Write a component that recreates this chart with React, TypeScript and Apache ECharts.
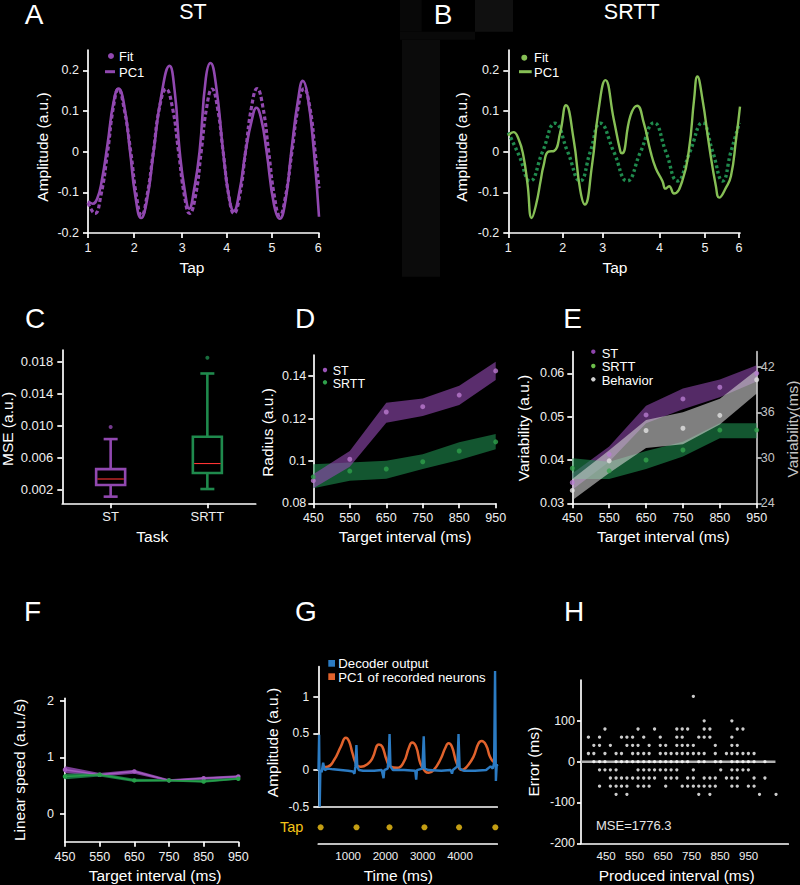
import React, { useEffect, useRef } from 'react';
import * as echarts from 'echarts';

const FONT = '"Liberation Sans", Arial, Helvetica, sans-serif';
const PURPLE = '#9148b0';
const LIGHT_GREEN = '#86bf55';
const DARK_GREEN = '#1f8a4d';
const BLUE = '#2b7bc3';
const ORANGE = '#e0622c';
const YELLOW = '#f5c518';
const WHITE = '#ffffff';
const TICK_COLOR = '#f0f0f0';

// ---------- Panel A (ST) ----------
const tapTicksA = [0, 20.0, 40.8, 60.0, 79.6, 99.7];
const pc1A: number[][] = [
  [0, -0.122], [2, -0.128], [4, -0.115], [6, -0.07], [8.5, 0.02], [11, 0.12], [13.2, 0.155], [15.5, 0.12],
  [18.2, 0.0], [20.5, -0.11], [23, -0.163], [25.5, -0.12], [28.4, 0.0], [31.5, 0.13], [35.3, 0.211], [37.5, 0.15],
  [39.7, 0.0], [42, -0.1], [43.8, -0.14], [46, -0.09], [48.3, 0.0], [51, 0.18], [53, 0.218], [55.5, 0.16],
  [58.5, 0.0], [61, -0.11], [63.1, -0.146], [65.5, -0.1], [68.2, 0.0], [71, 0.08], [72.9, 0.108], [75, 0.08],
  [77.3, 0.0], [80.5, -0.13], [83, -0.165], [85.5, -0.12], [88, 0.0], [91, 0.13], [93, 0.174], [95, 0.14],
  [97.8, 0.0], [100, -0.16],
];
const fitA: number[][] = [
  [0, -0.126], [3, -0.152], [5.5, -0.11], [8.5, 0.0], [11, 0.11], [13.2, 0.154], [15.5, 0.11], [18.5, 0.0],
  [21, -0.11], [23.2, -0.157], [25.5, -0.11], [28.3, 0.0], [31, 0.11], [33.8, 0.154], [36.5, 0.11], [39.2, 0.0],
  [41.8, -0.11], [44, -0.152], [46.5, -0.11], [49, 0.0], [51.4, 0.11], [53.7, 0.154], [56, 0.11], [58.5, 0.0],
  [61, -0.11], [63.2, -0.152], [65.6, -0.11], [68.2, 0.0], [70.8, 0.11], [73.2, 0.155], [75.7, 0.11], [78.2, 0.0],
  [80.7, -0.11], [83, -0.157], [85.5, -0.11], [88.3, 0.0], [91, 0.11], [93.5, 0.155], [96, 0.11], [98.3, 0.0],
  [100, -0.09],
];

// ---------- Panel B (SRTT) ----------
const tapTicksB = [0, 23.5, 40.7, 65.2, 84.9, 99.6];
const pc1B: number[][] = [
  [0, 0.039], [2.2, 0.048], [4.5, 0.03], [6.5, -0.01], [8.3, -0.08], [10.1, -0.163], [12, -0.13], [14, -0.07],
  [15.2, -0.035], [17.3, 0.0], [19.8, 0.002], [22.4, 0.047], [24.9, 0.114], [28.2, 0.03], [31, -0.093], [33, -0.13],
  [36.1, -0.035], [39, 0.104], [41.9, 0.176], [45.5, 0.08], [48.4, 0.0], [49.1, -0.004], [52.7, 0.088], [55.6, 0.113],
  [58.5, 0.07], [61.4, 0.0], [63.6, -0.04], [66.5, -0.072], [67.9, -0.091], [69.4, -0.085], [71.5, -0.103], [75.1, -0.072],
  [78, 0.006], [80.2, 0.129], [81.6, 0.185], [83.8, 0.129], [86.7, 0.014], [89.6, -0.085], [91, -0.113], [93.9, -0.089],
  [96.1, -0.06], [98.3, 0.03], [100, 0.111],
];
const fitB: number[][] = [
  [0, 0.047], [4.7, -0.01], [9.4, -0.072], [14.8, 0.0], [20.2, 0.07], [25.6, 0.0], [31, -0.072], [35.4, 0.0],
  [39.7, 0.07], [45.5, 0.0], [51.3, -0.072], [57.1, 0.0], [62.9, 0.071], [68, 0.0], [73, -0.072], [78.4, 0.0],
  [83.8, 0.071], [88.2, 0.0], [92.5, -0.072], [96.1, 0.0], [99.7, 0.07],
];

// ---------- Panel C (box plots) ----------
const boxCategories = ['ST', 'SRTT'];
// [min, Q1, median, Q3, max]
const boxStatsST = [0.00117, 0.00262, 0.00337, 0.0046, 0.00835];
const boxStatsSRTT = [0.00212, 0.00412, 0.0053, 0.00864, 0.01653];
const outliersST = [0.00985];
const outliersSRTT = [0.0185];
const mseTicks = [0.002, 0.006, 0.010, 0.014, 0.018];

// ---------- Panels D/E/F ----------
const targetIntervals = [450, 550, 650, 750, 850, 950];

const radiusSTMean = [0.0907, 0.1008, 0.1231, 0.1256, 0.1311, 0.1425];
const radiusSTLow = [0.0871, 0.0973, 0.118, 0.1212, 0.1264, 0.1382];
const radiusSTHigh = [0.0937, 0.1047, 0.1275, 0.1295, 0.1355, 0.1468];
const radiusSRTTMean = [0.0925, 0.0952, 0.0962, 0.0996, 0.1047, 0.109];
const radiusSRTTLow = [0.0871, 0.0907, 0.0916, 0.0962, 0.1004, 0.1055];
const radiusSRTTHigh = [0.0984, 0.0993, 0.1001, 0.1032, 0.1088, 0.1127];
const radiusTicks = [0.08, 0.1, 0.12, 0.14];

const varSTMean = [0.0348, 0.0413, 0.0504, 0.0541, 0.0568, 0.06];
const varSTLow = [0.0331, 0.0396, 0.0485, 0.0517, 0.0545, 0.0581];
const varSTHigh = [0.0369, 0.0431, 0.0525, 0.0565, 0.0586, 0.0619];
const varSRTTMean = [0.0381, 0.0375, 0.04, 0.0423, 0.0469, 0.0469];
const varSRTTLow = [0.0356, 0.0356, 0.0379, 0.0408, 0.045, 0.045];
const varSRTTHigh = [0.0404, 0.0396, 0.0421, 0.0442, 0.0485, 0.0485];
const varBehMean = [25.7, 29.6, 33.6, 33.9, 35.6, 40.3];
const varBehLow = [24.4, 28.0, 31.3, 31.8, 34.4, 38.5];
const varBehHigh = [27.2, 31.0, 35.0, 36.0, 37.8, 41.6];
const varTicksLeft = [0.03, 0.04, 0.05, 0.06];
const varTicksRight = [24, 30, 36, 42];

const speedSTMean = [0.78, 0.69, 0.75, 0.59, 0.63, 0.66];
const speedSTLow = [0.72, 0.66, 0.71, 0.57, 0.6, 0.63];
const speedSTHigh = [0.84, 0.72, 0.78, 0.61, 0.65, 0.68];
const speedSRTTMean = [0.66, 0.69, 0.59, 0.59, 0.57, 0.62];
const speedSRTTLow = [0.61, 0.66, 0.56, 0.57, 0.55, 0.6];
const speedSRTTHigh = [0.71, 0.72, 0.62, 0.61, 0.6, 0.64];
const speedTicks = [0, 1, 2];

// ---------- Panel G ----------
const decoderOutput: number[][] = [
  [205, 0.0], [222, 0.48], [238, -0.5], [255, 0.0], [290, -0.03], [330, 0.1], [370, 0.0], [450, 0.02], [600, 0.01],
  [800, 0.0], [1000, -0.01], [1130, -0.02], [1170, -0.05], [1195, 0.05], [1222, 0.34], [1245, 0.05], [1290, 0.0],
  [1400, -0.01], [1700, -0.01], [1900, 0.0], [1950, -0.11], [1970, 0.0], [2060, 0.02], [2090, 0.2], [2111, 0.49],
  [2135, 0.05], [2200, 0.0], [2500, 0.0], [2800, -0.01], [2825, -0.13], [2845, 0.0], [2990, 0.02], [3027, 0.46],
  [3055, 0.02], [3150, 0.0], [3500, -0.01], [3750, 0.0], [3785, -0.05], [3810, 0.0], [3930, 0.05], [3960, 0.49],
  [3990, 0.02], [4100, -0.01], [4400, -0.01], [4700, 0.0], [4820, 0.05], [4880, 0.02], [4915, 0.1], [4940, 1.35],
  [4962, -0.15], [4985, 0.08], [5000, 0.05],
];
const pc1Recorded: number[][] = [
  [330, 0.04], [449, 0.045], [627, 0.14], [804, 0.32], [938, 0.44], [1027, 0.39], [1116, 0.23], [1231, 0.07],
  [1338, 0.045], [1516, 0.08], [1649, 0.16], [1827, 0.35], [1916, 0.32], [2031, 0.14], [2138, 0.045], [2316, 0.03],
  [2493, 0.11], [2627, 0.3], [2716, 0.377], [2822, 0.32], [2938, 0.09], [3071, -0.02], [3160, -0.036], [3293, 0.0],
  [3471, 0.14], [3604, 0.3], [3693, 0.364], [3782, 0.32], [3916, 0.09], [4049, 0.0], [4182, 0.045], [4360, 0.18],
  [4493, 0.36], [4582, 0.395], [4698, 0.34], [4804, 0.18], [4893, 0.11],
];
const tapTimes = [262, 1225, 2109, 3046, 3975, 4947];
const timeTicks = [1000, 2000, 3000, 4000];
const ampTicksG = [-0.5, 0, 0.5, 1];

// ---------- Panel H ----------
const producedIntervals = [
  388, 407, 427, 446, 465, 485, 504, 523, 543, 562, 582, 601, 620, 640, 659, 678, 698,
  717, 736, 756, 775, 794, 814, 833, 852, 872, 891, 910, 930, 949, 969, 988, 1007, 1046,
];
const errorsByInterval: number[][] = [
  [60, 20], [40, 20, 0], [60, 40, 0, -20, -60], [80, 20, 0, -20], [40, -20, -40, -60],
  [20, 0, -20, -40, -60, -80], [60, 20, 0, -40, -60], [60, 40, 0, -40, -60, -80], [60, 40, 20, 0, -40],
  [80, 40, 20, 0, -20, -40, -60], [60, 20, 0, -20, -40, -60], [40, 20, 0, -20, -40, -60], [80, 0, -20, -40],
  [60, 40, 20, 0, -20], [40, 20, 0, -20, -40, -60], [20, 0, -20, -40], [80, 60, 40, 20, 0, -20, -40],
  [80, 60, 40, 20, 0, -60], [80, 40, 20, 0, -40, -60], [160, 40, 20, -20, -40, -60], [60, 20, 0, -60, -80],
  [100, 80, 60, 20, 0, -40, -60], [80, 60, -40, -60, -80], [40, 20, 0, -40, -60], [0, -20], [20, -40],
  [100, 60, 40, 20, 0, -20, -40, -60], [80, 40, 20, 0, -20, -40, -60], [80, 20, 0, -20], [20, 0, -20, -60],
  [20, 0, -40, -60], [-80], [0, -40], [-80],
];
const zeroLineH: number[][] = [[362, 0], [1044, 0]];
const intervalTicksH = [450, 550, 650, 750, 850, 950];
const errorTicks = [-200, -100, 0, 100];
const mseText = 'MSE=1776.3';

// ---------- helpers ----------
type VA = {
  grid: number; min: number; max: number; ticks?: number[]; margin?: number;
  fmt?: (v: number) => string; position?: string; color?: string; labelColor?: string;
  showTicks?: boolean; showLabels?: boolean; fontSize?: number; tickLen?: number; showLine?: boolean;
};
function vAxis(p: VA): any {
  const color = p.color ?? WHITE;
  return {
    type: 'value', gridIndex: p.grid, min: p.min, max: p.max, position: p.position,
    axisLine: { show: p.showLine !== false, onZero: false, lineStyle: { color, width: 1.7 } },
    axisTick: {
      show: p.showTicks !== false, length: p.tickLen ?? 5, inside: false,
      customValues: p.ticks, lineStyle: { color, width: 1.7 },
    },
    axisLabel: {
      show: p.showLabels !== false, customValues: p.ticks, margin: p.margin ?? 8,
      color: p.labelColor ?? TICK_COLOR, fontSize: p.fontSize ?? 12.5, fontFamily: FONT,
      formatter: p.fmt ?? ((v: number) => String(v)),
    },
    splitLine: { show: false },
  };
}

function bandSeries(xi: number, yi: number, xs: number[], lo: number[], hi: number[], color: string, opacity: number, z: number): any {
  const rows = xs.map((x, i) => [x, lo[i], hi[i]]);
  return {
    type: 'custom', xAxisIndex: xi, yAxisIndex: yi, data: rows, z, silent: true,
    encode: { x: 0, y: [1, 2] },
    renderItem: (params: any, api: any) => {
      if (params.dataIndex !== 0) return { type: 'group', children: [] };
      const top = rows.map((r) => api.coord([r[0], r[2]]));
      const bottom = rows.slice().reverse().map((r) => api.coord([r[0], r[1]]));
      return { type: 'polygon', shape: { points: top.concat(bottom) }, style: { fill: color, opacity } };
    },
  };
}

function dots(xi: number, yi: number, xs: number[], ys: number[], color: string, size: number): any {
  return {
    type: 'scatter', xAxisIndex: xi, yAxisIndex: yi, data: xs.map((x, i) => [x, ys[i]]),
    symbol: 'circle', symbolSize: size, itemStyle: { color }, z: 5, silent: true,
  };
}

function txt(x: number, y: number, text: string, size: number, o: { rot?: number; color?: string; align?: string; lh?: number } = {}): any {
  const align = o.align ?? 'center';
  return {
    type: 'text', x, y, rotation: o.rot ?? 0, silent: true,
    style: {
      text, fill: o.color ?? WHITE, fontSize: size, fontFamily: FONT, lineHeight: o.lh ?? Math.round(size * 1.05),
      align, verticalAlign: 'middle', textAlign: align, textVerticalAlign: 'middle',
    },
  };
}

function buildOption(): any {
  const grids = [
    { left: 88, top: 50, width: 231, height: 183 },
    { left: 508.3, top: 50, width: 231.7, height: 183 },
    { left: 62.3, top: 350, width: 193.4, height: 153.3 },
    { left: 313.3, top: 355, width: 182.4, height: 148.3 },
    { left: 572.3, top: 351.7, width: 184.4, height: 151.6 },
    { left: 65, top: 698.3, width: 173.3, height: 143.4 },
    { left: 318.3, top: 666.7, width: 179, height: 140 },
    { left: 318.3, top: 811.3, width: 179, height: 32 },
    { left: 581, top: 680, width: 207.3, height: 163.3 },
  ].map((g) => ({ ...g, containLabel: false, outerBoundsMode: 'none', show: false }));

  const tapFmt = (ticks: number[]) => (v: number) =>
    String(ticks.findIndex((t) => Math.abs(t - v) < 1e-6) + 1);

  const xAxes = [
    vAxis({ grid: 0, min: 0, max: 100, ticks: tapTicksA, fmt: tapFmt(tapTicksA), margin: 8 }),
    vAxis({ grid: 1, min: 0, max: 100, ticks: tapTicksB, fmt: tapFmt(tapTicksB), margin: 8 }),
    {
      type: 'category', gridIndex: 2, data: boxCategories, boundaryGap: true,
      axisLine: { show: true, onZero: false, lineStyle: { color: WHITE, width: 1.7 } },
      axisTick: { show: true, alignWithLabel: true, length: 5, lineStyle: { color: WHITE, width: 1.7 } },
      axisLabel: { color: TICK_COLOR, fontSize: 13, fontFamily: FONT, margin: 7 },
      splitLine: { show: false },
    },
    vAxis({ grid: 3, min: 450, max: 950, ticks: targetIntervals, margin: 8 }),
    vAxis({ grid: 4, min: 450, max: 950, ticks: targetIntervals, margin: 8 }),
    vAxis({ grid: 5, min: 450, max: 950, ticks: targetIntervals, margin: 9 }),
    vAxis({ grid: 6, min: 200, max: 5000, showTicks: false, showLabels: false }),
    vAxis({ grid: 7, min: 200, max: 5000, ticks: timeTicks, showTicks: false, margin: 7, fontSize: 11.5 }),
    vAxis({ grid: 8, min: 362, max: 1089, ticks: intervalTicksH, showTicks: false, margin: 7, fontSize: 11.5 }),
  ];

  const yAxes = [
    vAxis({ grid: 0, min: -0.2, max: 0.25, ticks: [-0.2, -0.1, 0, 0.1, 0.2], margin: 9 }),
    vAxis({ grid: 1, min: -0.2, max: 0.25, ticks: [-0.2, -0.1, 0, 0.1, 0.2], margin: 9 }),
    vAxis({ grid: 2, min: 0.00034, max: 0.01946, ticks: mseTicks, margin: 9, fmt: (v) => v.toFixed(3), fontSize: 13 }),
    vAxis({ grid: 3, min: 0.08, max: 0.15, ticks: radiusTicks, margin: 7 }),
    vAxis({ grid: 4, min: 0.03, max: 0.065, ticks: varTicksLeft, margin: 8 }),
    vAxis({ grid: 4, min: 24, max: 44, ticks: varTicksRight, position: 'right', color: '#c4c4c4', labelColor: '#c4c4c4', margin: 4 }),
    vAxis({ grid: 5, min: -0.5, max: 2.05, ticks: speedTicks, margin: 11 }),
    vAxis({ grid: 6, min: -0.5, max: 1.41, ticks: ampTicksG, margin: 9, fontSize: 12 }),
    {
      type: 'category', gridIndex: 7, data: ['Tap'],
      axisLine: { show: false }, axisTick: { show: false }, splitLine: { show: false },
      axisLabel: { color: YELLOW, fontSize: 14.5, fontFamily: FONT, margin: 15 },
    },
    vAxis({ grid: 8, min: -200, max: 200, ticks: errorTicks, margin: 6, tickLen: 4 }),
  ];

  const series: any[] = [
    // A
    { type: 'line', xAxisIndex: 0, yAxisIndex: 0, data: fitA, smooth: 0.5, symbol: 'none', silent: true,
      lineStyle: { color: PURPLE, width: 3.2, type: [4, 2.5] }, z: 3 },
    { type: 'line', xAxisIndex: 0, yAxisIndex: 0, data: pc1A, smooth: 0.5, symbol: 'none', silent: true,
      lineStyle: { color: PURPLE, width: 2.6 }, z: 4 },
    // B
    { type: 'line', xAxisIndex: 1, yAxisIndex: 1, data: fitB, smooth: 0.5, symbol: 'none', silent: true,
      lineStyle: { color: DARK_GREEN, width: 3.4, type: [2.8, 2.8] }, z: 3 },
    { type: 'line', xAxisIndex: 1, yAxisIndex: 1, data: pc1B, smooth: 0.5, symbol: 'none', silent: true,
      lineStyle: { color: LIGHT_GREEN, width: 2.4 }, z: 4 },
    // C
    {
      type: 'custom', xAxisIndex: 2, yAxisIndex: 2, silent: true, z: 3,
      data: [[0, ...boxStatsST], [1, ...boxStatsSRTT]],
      encode: { x: 0, y: [1, 2, 3, 4, 5] },
      renderItem: (params: any, api: any) => {
        const i = api.value(0);
        const p = (v: number) => api.coord([i, v]);
        const lo = p(api.value(1)), q1 = p(api.value(2)), md = p(api.value(3)), q3 = p(api.value(4)), hi = p(api.value(5));
        const cx = lo[0];
        const c = params.dataIndex === 0 ? PURPLE : DARK_GREEN;
        const st = { stroke: c, lineWidth: 2.6, fill: 'none' };
        return {
          type: 'group', children: [
            { type: 'line', shape: { x1: cx, y1: hi[1], x2: cx, y2: q3[1] }, style: st },
            { type: 'line', shape: { x1: cx, y1: q1[1], x2: cx, y2: lo[1] }, style: st },
            { type: 'line', shape: { x1: cx - 7, y1: hi[1], x2: cx + 7, y2: hi[1] }, style: st },
            { type: 'line', shape: { x1: cx - 7, y1: lo[1], x2: cx + 7, y2: lo[1] }, style: st },
            { type: 'rect', shape: { x: cx - 14.5, y: q3[1], width: 29, height: q1[1] - q3[1] }, style: st },
            { type: 'line', shape: { x1: cx - 13.2, y1: md[1], x2: cx + 13.2, y2: md[1] }, style: { stroke: '#ff3434', lineWidth: 1.1 } },
          ],
        };
      },
    },
    {
      type: 'scatter', xAxisIndex: 2, yAxisIndex: 2, symbolSize: 4, silent: true, z: 4,
      data: [
        ...outliersST.map((v) => ({ value: [0, v], itemStyle: { color: PURPLE } })),
        ...outliersSRTT.map((v) => ({ value: [1, v], itemStyle: { color: DARK_GREEN } })),
      ],
    },
    // D
    bandSeries(3, 3, targetIntervals, radiusSRTTLow, radiusSRTTHigh, DARK_GREEN, 0.62, 1),
    bandSeries(3, 3, targetIntervals, radiusSTLow, radiusSTHigh, PURPLE, 0.62, 2),
    dots(3, 3, targetIntervals, radiusSTMean, '#bb7ad0', 5),
    dots(3, 3, targetIntervals, radiusSRTTMean, '#2fa04b', 5),
    // E
    bandSeries(4, 4, targetIntervals, varSTLow, varSTHigh, PURPLE, 0.58, 1),
    bandSeries(4, 4, targetIntervals, varSRTTLow, varSRTTHigh, DARK_GREEN, 0.62, 1),
    bandSeries(4, 5, targetIntervals, varBehLow, varBehHigh, '#d4d4d4', 0.6, 2),
    dots(4, 4, targetIntervals, varSTMean, '#b67cd0', 5),
    dots(4, 4, targetIntervals, varSRTTMean, '#35a44c', 5),
    dots(4, 5, targetIntervals, varBehMean, '#e2e2e2', 5),
    // F
    bandSeries(5, 6, targetIntervals, speedSTLow, speedSTHigh, PURPLE, 0.85, 1),
    bandSeries(5, 6, targetIntervals, speedSRTTLow, speedSRTTHigh, DARK_GREEN, 0.85, 2),
    { type: 'line', xAxisIndex: 5, yAxisIndex: 6, data: targetIntervals.map((x, i) => [x, speedSTMean[i]]), silent: true,
      symbol: 'circle', symbolSize: 4.5, itemStyle: { color: '#a45cc0' }, lineStyle: { color: '#a45cc0', width: 1.5 }, z: 3 },
    { type: 'line', xAxisIndex: 5, yAxisIndex: 6, data: targetIntervals.map((x, i) => [x, speedSRTTMean[i]]), silent: true,
      symbol: 'circle', symbolSize: 4.5, itemStyle: { color: '#27a049' }, lineStyle: { color: '#27a049', width: 1.5 }, z: 4 },
    // G
    { type: 'line', xAxisIndex: 6, yAxisIndex: 7, data: pc1Recorded, smooth: 0.5, symbol: 'none', silent: true,
      lineStyle: { color: ORANGE, width: 2.5 }, z: 3 },
    { type: 'line', xAxisIndex: 6, yAxisIndex: 7, data: decoderOutput, symbol: 'none', silent: true,
      lineStyle: { color: BLUE, width: 2.4 }, z: 4 },
    { type: 'scatter', xAxisIndex: 7, yAxisIndex: 8, data: tapTimes.map((t) => [t, 0]), symbolSize: 6, silent: true,
      itemStyle: { color: YELLOW }, z: 4 },
    // H
    { type: 'line', xAxisIndex: 8, yAxisIndex: 9, data: zeroLineH, symbol: 'none', silent: true,
      lineStyle: { color: '#b0b0b0', width: 2.5 }, z: 3 },
    { type: 'scatter', xAxisIndex: 8, yAxisIndex: 9, symbolSize: 3.3, silent: true, itemStyle: { color: WHITE }, z: 4,
      data: producedIntervals.flatMap((x, k) => errorsByInterval[k].map((e) => [x, e])) },
  ];

  const L = 15.5; // axis title size
  const P = 28; // panel letter size
  const graphicEls: any[] = [
    // faint background artefacts near panel B
    { type: 'rect', shape: { x: 400, y: 0, width: 21.7, height: 31.7 }, style: { fill: '#080808' }, z: -10, silent: true },
    { type: 'rect', shape: { x: 475, y: 0, width: 38, height: 31.7 }, style: { fill: '#101010' }, z: -10, silent: true },
    { type: 'rect', shape: { x: 400, y: 31.7, width: 75, height: 8 }, style: { fill: '#090909' }, z: -10, silent: true },
    { type: 'rect', shape: { x: 402, y: 39.7, width: 38, height: 237 }, style: { fill: '#0b0b0b' }, z: -10, silent: true },
    // panel letters
    txt(34.2, 14.2, 'A', P, { lh: 24 }), txt(443, 14.2, 'B', P, { lh: 24 }),
    txt(35, 318, 'C', P, { lh: 24 }), txt(305, 318, 'D', P, { lh: 24 }), txt(572.5, 318, 'E', P, { lh: 24 }),
    txt(32.5, 611, 'F', P, { lh: 24 }), txt(305.8, 611, 'G', P, { lh: 24 }), txt(574, 611, 'H', P, { lh: 24 }),
    // titles
    txt(193, 11.5, 'ST', 21.5, { lh: 18 }), txt(631.7, 11.5, 'SRTT', 21.5, { lh: 18 }),
    // axis titles
    txt(192, 267, 'Tap', L), txt(42, 147, 'Amplitude (a.u.)', L, { rot: Math.PI / 2 }),
    txt(615, 267, 'Tap', L), txt(461.7, 147, 'Amplitude (a.u.)', L, { rot: Math.PI / 2 }),
    txt(152.3, 536.5, 'Task', L), txt(7.8, 429, 'MSE (a.u.)', L, { rot: Math.PI / 2 }),
    txt(405, 536.7, 'Target interval (ms)', L), txt(267, 432.5, 'Radius (a.u.)', L, { rot: Math.PI / 2 }),
    txt(663.3, 536.7, 'Target interval (ms)', L), txt(523.7, 428, 'Variability (a.u.)', L, { rot: Math.PI / 2 }),
    txt(792, 429, 'Variability(ms)', L, { rot: Math.PI / 2, color: '#c4c4c4' }),
    txt(155, 875.5, 'Target interval (ms)', L), txt(19.2, 770, 'Linear speed (a.u./s)', L, { rot: Math.PI / 2 }),
    txt(398.3, 875.5, 'Time (ms)', L), txt(272, 742.5, 'Amplitude (a.u.)', L, { rot: Math.PI / 2 }),
    txt(676.7, 875.5, 'Produced interval (ms)', L), txt(533.7, 761.7, 'Error (ms)', L, { rot: Math.PI / 2 }),
    // legend A
    { type: 'circle', shape: { cx: 111, cy: 56, r: 3 }, style: { fill: PURPLE }, silent: true },
    txt(119, 56.5, 'Fit', 13, { align: 'left', lh: 12 }),
    { type: 'line', shape: { x1: 105, y1: 71.7, x2: 115, y2: 71.7 }, style: { stroke: PURPLE, lineWidth: 3 }, silent: true },
    txt(119, 72, 'PC1', 13, { align: 'left', lh: 12 }),
    // legend B
    { type: 'circle', shape: { cx: 524.3, cy: 57.7, r: 3 }, style: { fill: LIGHT_GREEN }, silent: true },
    txt(534, 57.7, 'Fit', 13, { align: 'left', lh: 12 }),
    { type: 'line', shape: { x1: 519, y1: 71.7, x2: 531.7, y2: 71.7 }, style: { stroke: LIGHT_GREEN, lineWidth: 3 }, silent: true },
    txt(534, 72, 'PC1', 13, { align: 'left', lh: 12 }),
    // legend D
    { type: 'circle', shape: { cx: 325, cy: 370, r: 2.2 }, style: { fill: '#9b55b8' }, silent: true },
    txt(332.7, 371, 'ST', 12.5, { align: 'left', lh: 11 }),
    { type: 'circle', shape: { cx: 325, cy: 382.3, r: 2.2 }, style: { fill: '#2fa04b' }, silent: true },
    txt(332.7, 384.2, 'SRTT', 12.5, { align: 'left', lh: 11 }),
    // legend E
    { type: 'circle', shape: { cx: 593.3, cy: 351.7, r: 2.2 }, style: { fill: '#8e44ad' }, silent: true },
    txt(601.7, 353.3, 'ST', 13, { align: 'left', lh: 11 }),
    { type: 'circle', shape: { cx: 593.3, cy: 366, r: 2.2 }, style: { fill: '#6cbf4a' }, silent: true },
    txt(601.7, 366.7, 'SRTT', 13, { align: 'left', lh: 11 }),
    { type: 'circle', shape: { cx: 593.3, cy: 379.3, r: 2.2 }, style: { fill: '#d0d0d0' }, silent: true },
    txt(601.7, 380, 'Behavior', 13, { align: 'left', lh: 11 }),
    // legend G
    { type: 'rect', shape: { x: 328.3, y: 660, width: 6.7, height: 6.7 }, style: { fill: BLUE }, silent: true },
    txt(338.3, 663.3, 'Decoder output', 13.2, { align: 'left', lh: 12 }),
    { type: 'rect', shape: { x: 328.3, y: 673.3, width: 6.7, height: 6.7 }, style: { fill: ORANGE }, silent: true },
    txt(338.3, 677.7, 'PC1 of recorded neurons', 13.2, { align: 'left', lh: 12 }),
    // H annotation
    txt(596, 825, mseText, 13, { align: 'left', color: '#e6e6e6' }),
  ];

  return {
    animation: false,
    backgroundColor: '#000000',
    textStyle: { fontFamily: FONT },
    grid: grids,
    xAxis: xAxes,
    yAxis: yAxes,
    series,
    graphic: { elements: graphicEls },
  };
}

export default function App() {
  const ref = useRef<HTMLDivElement>(null);
  useEffect(() => {
    document.body.style.margin = '0';
    document.body.style.background = '#000';
    const chart = echarts.init(ref.current!, null, { renderer: 'svg', width: 800, height: 885 });
    chart.setOption(buildOption());
    return () => chart.dispose();
  }, []);
  return (
    <div
      ref={ref}
      style={{ position: 'absolute', left: 0, top: 0, width: 800, height: 885, background: '#000' }}
    />
  );
}
